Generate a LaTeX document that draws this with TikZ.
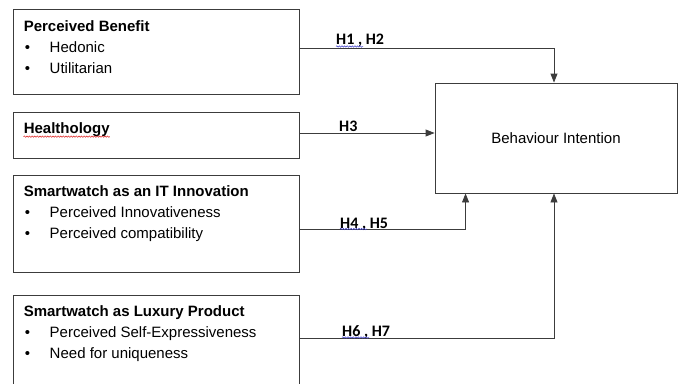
\documentclass[tikz,border=0pt]{standalone}
\usepackage{fontspec}
\setmainfont{Liberation Sans}
\newfontfamily\hfont{Carlito}
\usetikzlibrary{arrows.meta,positioning,calc,decorations.pathmorphing}
\definecolor{boxline}{RGB}{60,60,60}
\definecolor{spellred}{RGB}{220,30,30}
\definecolor{spellblue}{RGB}{60,60,200}
\newcommand{\bulitem}[1]{\makebox[26pt][l]{\hspace{1pt}\textbullet}#1}
\tikzset{
  factor/.style={draw=boxline, line width=0.9pt, rectangle, minimum width=286pt, inner sep=0pt},
  outcome/.style={draw=boxline, line width=0.9pt, rectangle, minimum width=242pt, minimum height=110pt, inner sep=0pt, font=\fontsize{15}{18}\selectfont},
  boxtext/.style={anchor=north west, inner sep=0pt, align=left, font=\fontsize{15}{20.8}\selectfont},
  link/.style={draw=boxline, line width=0.9pt, -{Triangle[length=9pt,width=7pt]}},
  plainlink/.style={draw=boxline, line width=0.9pt},
  hyp/.style={anchor=base west, inner sep=0pt, font=\hfont\bfseries\fontsize{16}{19}\selectfont},
  squiggle/.style={line width=0.5pt, decorate, decoration={snake, amplitude=0.7pt, segment length=2.6pt}}
}
\begin{document}
\begin{tikzpicture}[x=1pt, y=-1pt]
  \clip (0,0) rectangle (680,383);

  % Draw factor boxes
  \node[factor, minimum height=85pt] (pb) at (156,51.5) {};
  \node[factor, minimum height=46pt] (hl) at (156,135) {};
  \node[factor, minimum height=97pt] (inno) at (156,223.5) {};
  \node[factor, minimum height=97pt] (lux) at (156,343.5) {};

  % Draw outcome box
  \node[outcome] (bi) at (556,138) {Behaviour Intention};

  % Box texts
  \node[boxtext] (pbtext) at ([xshift=11pt,yshift=-12pt]pb.north west)
    {\textbf{Perceived Benefit}\\ \bulitem{Hedonic}\\ \bulitem{Utilitarian}};
  \node[boxtext] (hltext) at ([xshift=11pt,yshift=-11pt]hl.north west)
    {\textbf{Healthology}};
  \node[boxtext] (innotext) at ([xshift=11pt,yshift=-11pt]inno.north west)
    {\textbf{Smartwatch as an IT Innovation}\\ \bulitem{Perceived Innovativeness}\\ \bulitem{Perceived compatibility}};
  \node[boxtext] (luxtext) at ([xshift=11pt,yshift=-11pt]lux.north west)
    {\textbf{Smartwatch as Luxury Product}\\ \bulitem{Perceived Self-Expressiveness}\\ \bulitem{Need for uniqueness}};

  % Draw hypothesis paths
  \coordinate (h3s) at ([yshift=2pt]hl.east);
  \draw[link] ([yshift=3.5pt]pb.east) -| ([xshift=-2pt]bi.north);
  \draw[link] (h3s) -- (h3s -| bi.west);
  \draw[link] ([yshift=-5.5pt]inno.east) -| ([xshift=31pt]bi.south west);
  \draw[link] ([yshift=5.5pt]lux.east) -| ([xshift=-2pt]bi.south);

  % Hypothesis labels
  \node[hyp] (h12) at (336,44) {H1 , H2};
  \node[hyp] (h3) at (339,131) {H3};
  \node[hyp] (h45) at (340,228) {H4 , H5};
  \node[hyp] (h67) at (342,336) {H6 , H7};

  % Spell check marks
  \draw[squiggle, spellred] ([yshift=-3pt]hltext.base west) -- ([yshift=-3pt]hltext.base east);
  \draw[squiggle, spellblue] ([yshift=-2.5pt]h12.base west) -- ++(27,0);
  \draw[squiggle, spellblue] ([yshift=-1pt]h45.base west) -- ++(27,0);
  \draw[squiggle, spellblue] ([yshift=-1.5pt]h67.base west) -- ++(27,0);
\end{tikzpicture}
\end{document}
